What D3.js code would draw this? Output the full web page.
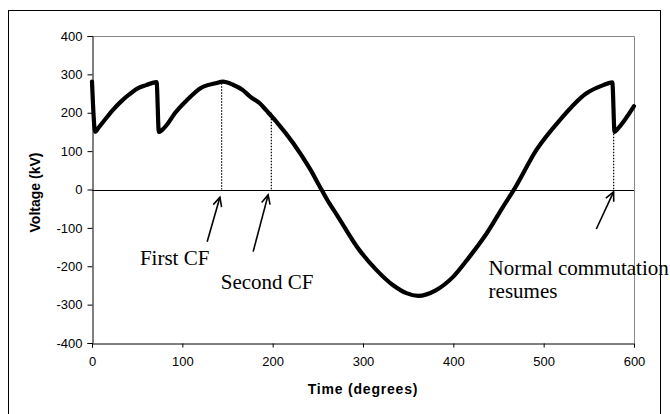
<!DOCTYPE html>
<html>
<head>
<meta charset="utf-8">
<script src="https://cdn.jsdelivr.net/npm/d3@7/dist/d3.min.js"></script>
<style>
  html, body { margin: 0; padding: 0; background: #fff; }
  svg { display: block; }
</style>
</head>
<body>
<svg id="chart" width="670" height="414"></svg>
<script>
// Valve voltage over time during commutation failures
const timeDeg = [0, 3.6, 6.6, 14, 23, 32, 42, 51, 60, 71.5, 74, 77.5, 84, 91.5, 106, 120, 137, 145, 156, 167,
  175, 186, 193, 204, 223, 241, 254, 263, 271, 296, 315, 333, 348, 361, 381, 400, 418, 437, 455, 468,
  492, 518, 547, 566, 576, 578.5, 582, 600];
const voltageKV = [281, 150, 159, 181, 207, 229, 249, 264, 272, 280, 150, 155, 172, 198, 235, 264, 277, 281, 273, 259,
  242, 224, 206, 177, 120, 55, 0, -37, -66, -158, -210, -249, -270, -277, -262, -227, -175, -114, -45, 3,
  103, 181, 250, 272, 279, 150, 158, 217];

const xTicks = [0, 100, 200, 300, 400, 500, 600];
const yTicks = [-400, -300, -200, -100, 0, 100, 200, 300, 400];

// Event markers: dotted drop line from the curve to zero, plus an arrow
const eventDeg = [143.5, 198.5, 577.5];
const eventTopKV = [277, 200, 145];
const arrowTail = [[127.5, -136], [178.4, -162], [558.3, -103]];
const arrowHead = [[141.6, -20], [195, -14], [577.4, -6]];

const notes = [
  { lines: ["First CF"], at: [53, -197] },
  { lines: ["Second CF"], at: [142.5, -260] },
  { lines: ["Normal commutation", "resumes"], at: [439, -222.6] }
];

const svg = d3.select("#chart");
const plot = { left: 92, right: 634, top: 36, bottom: 343 };

const x = d3.scaleLinear().domain([0, 600]).range([plot.left, plot.right]);
const y = d3.scaleLinear().domain([-400, 400]).range([plot.bottom, plot.top]);

// outer frame
svg.append("rect")
  .attr("x", 8.5).attr("y", 10.5)
  .attr("width", 652).attr("height", 430)
  .attr("fill", "none").attr("stroke", "#000").attr("stroke-width", 1);

// plot border (top/right grey)
svg.append("path")
  .attr("d", `M${plot.left},${plot.top + 0.5}H${plot.right + 0.5}V${plot.bottom}`)
  .attr("fill", "none").attr("stroke", "#888").attr("stroke-width", 1);

const tickFont = "'Liberation Sans', Arial, sans-serif";
const plain = d => String(d);

const yAxis = svg.append("g")
  .attr("transform", `translate(${plot.left + 0.5},0)`)
  .call(d3.axisLeft(y).tickValues(yTicks).tickSize(5).tickPadding(5).tickFormat(plain));
const xAxis = svg.append("g")
  .attr("transform", `translate(0,${plot.bottom + 0.5})`)
  .call(d3.axisBottom(x).tickValues(xTicks).tickSize(4).tickPadding(9).tickFormat(plain));

[xAxis, yAxis].forEach(g => {
  g.select(".domain").attr("stroke", "#000");
  g.selectAll(".tick line").attr("stroke", "#000");
  g.selectAll(".tick text")
    .attr("fill", "#000")
    .style("font-family", tickFont)
    .style("font-size", "13px");
});

// zero line
svg.append("line")
  .attr("x1", x(0)).attr("x2", x(600))
  .attr("y1", Math.round(y(0)) + 0.5).attr("y2", Math.round(y(0)) + 0.5)
  .attr("stroke", "#000").attr("stroke-width", 1.2);

// dotted drop lines
svg.append("g").selectAll("line")
  .data(eventDeg)
  .join("line")
  .attr("x1", d => x(d)).attr("x2", d => x(d))
  .attr("y1", (d, i) => y(eventTopKV[i])).attr("y2", y(0))
  .attr("stroke", "#000").attr("stroke-width", 1.2)
  .attr("stroke-dasharray", "1.5,1.5");

// voltage trace
const pts = timeDeg.map((t, i) => [t, voltageKV[i]]);
svg.append("path")
  .datum(pts)
  .attr("fill", "none")
  .attr("stroke", "#000")
  .attr("stroke-width", 4.2)
  .attr("stroke-linejoin", "round")
  .attr("stroke-linecap", "round")
  .attr("d", d3.line().x(d => x(d[0])).y(d => y(d[1])).curve(d3.curveMonotoneX));

// arrows with open heads
const arrows = svg.append("g").attr("stroke", "#000").attr("stroke-width", 1.6).attr("fill", "none");
arrowTail.forEach((tail, i) => {
  const x0 = x(tail[0]), y0 = y(tail[1]);
  const x1 = x(arrowHead[i][0]), y1 = y(arrowHead[i][1]);
  const ang = Math.atan2(y1 - y0, x1 - x0);
  const len = 10, spread = Math.PI / 7;
  const a1 = [x1 - len * Math.cos(ang - spread), y1 - len * Math.sin(ang - spread)];
  const a2 = [x1 - len * Math.cos(ang + spread), y1 - len * Math.sin(ang + spread)];
  arrows.append("path").attr("d", `M${x0},${y0}L${x1},${y1}`);
  arrows.append("path").attr("d", `M${a1[0]},${a1[1]}L${x1},${y1}L${a2[0]},${a2[1]}`);
});

// annotation text
notes.forEach(n => {
  const t = svg.append("text")
    .attr("x", x(n.at[0])).attr("y", y(n.at[1]))
    .style("font-family", "'Liberation Serif', 'Times New Roman', serif")
    .style("font-size", "21px")
    .attr("fill", "#000");
  n.lines.forEach((line, i) => {
    t.append("tspan").attr("x", x(n.at[0])).attr("dy", i === 0 ? 0 : 23.3).text(line);
  });
});

// axis titles
svg.append("text")
  .attr("x", (plot.left + plot.right) / 2).attr("y", 394)
  .attr("text-anchor", "middle")
  .style("font-family", tickFont).style("font-size", "14px").style("font-weight", "bold")
  .style("letter-spacing", "0.8px")
  .text("Time (degrees)");

svg.append("text")
  .attr("transform", `translate(40,${(plot.top + plot.bottom) / 2 + 3}) rotate(-90)`)
  .attr("text-anchor", "middle")
  .style("font-family", tickFont).style("font-size", "14px").style("font-weight", "bold")
  .text("Voltage (kV)");
</script>
</body>
</html>
